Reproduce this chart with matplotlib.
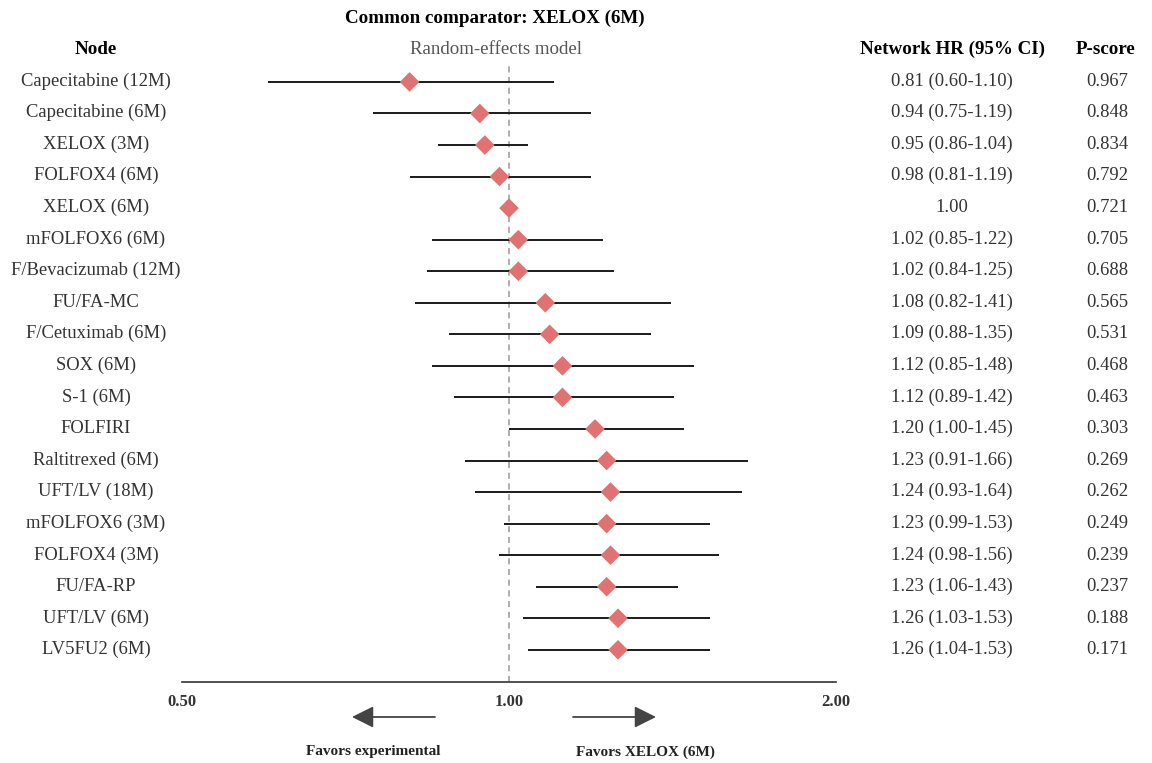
import numpy as np
from matplotlib import pyplot as plt
from matplotlib import ticker
from matplotlib.patches import FancyArrowPatch

plt.rcParams['font.family'] = ['Liberation Serif', 'DejaVu Serif']

nodes = ['Capecitabine (12M)', 'Capecitabine (6M)', 'XELOX (3M)', 'FOLFOX4 (6M)',
         'XELOX (6M)', 'mFOLFOX6 (6M)', 'F/Bevacizumab (12M)', 'FU/FA-MC',
         'F/Cetuximab (6M)', 'SOX (6M)', 'S-1 (6M)', 'FOLFIRI', 'Raltitrexed (6M)',
         'UFT/LV (18M)', 'mFOLFOX6 (3M)', 'FOLFOX4 (3M)', 'FU/FA-RP',
         'UFT/LV (6M)', 'LV5FU2 (6M)']
hr = [0.81, 0.94, 0.95, 0.98, 1.00, 1.02, 1.02, 1.08, 1.09, 1.12, 1.12, 1.20,
      1.23, 1.24, 1.23, 1.24, 1.23, 1.26, 1.26]
lower = [0.60, 0.75, 0.86, 0.81, None, 0.85, 0.84, 0.82, 0.88, 0.85, 0.89, 1.00,
         0.91, 0.93, 0.99, 0.98, 1.06, 1.03, 1.04]
upper = [1.10, 1.19, 1.04, 1.19, None, 1.22, 1.25, 1.41, 1.35, 1.48, 1.42, 1.45,
         1.66, 1.64, 1.53, 1.56, 1.43, 1.53, 1.53]
pscore = [0.967, 0.848, 0.834, 0.792, 0.721, 0.705, 0.688, 0.565, 0.531, 0.468,
          0.463, 0.303, 0.269, 0.262, 0.249, 0.239, 0.237, 0.188, 0.171]
xticks = [0.5, 1.0, 2.0]

W, H = 1152, 763
def fx(px):
    return px / W
def fy(py):
    return 1 - py / H

txt = '#333333'
red = '#E07272'

fig = plt.figure(figsize=(W / 100, H / 100), dpi=100)
ax = fig.add_axes([fx(182), fy(682), fx(836) - fx(182), (682 - 63) / H])

n = len(nodes)
y = np.arange(n)
for i in range(n):
    if lower[i] is not None:
        ax.plot([lower[i], upper[i]], [y[i], y[i]], color='#1a1a1a', lw=1.4,
                solid_capstyle='butt', zorder=2)
ax.scatter(hr, y, marker='D', s=100, color=red, edgecolors='none', zorder=3)
ax.axvline(1.0, color='#999999', lw=1.1, ls=(0, (4, 3)), zorder=1)

ax.set_xscale('log')
ax.set_xlim(0.5, 2.0)
ax.set_ylim(n - 1 + 1.02, -0.6)
ax.set_xticks(xticks)
ax.xaxis.set_major_formatter(ticker.FormatStrFormatter('%.2f'))
ax.xaxis.set_minor_locator(ticker.NullLocator())
ax.set_yticks([])
for s in ['top', 'left', 'right']:
    ax.spines[s].set_visible(False)
ax.spines['bottom'].set_color('#333333')
ax.spines['bottom'].set_linewidth(1.2)
ax.tick_params(axis='x', length=0, pad=8.5, labelsize=12, labelcolor=txt)
for lab in ax.get_xticklabels():
    lab.set_fontweight('bold')

# columns
for i in range(n):
    yy = fy(81 + i * 31.6)
    fig.text(fx(96), yy, nodes[i], ha='center', va='center', fontsize=13.4, color=txt)
    if lower[i] is None:
        s = f'{hr[i]:.2f}'
    else:
        s = f'{hr[i]:.2f} ({lower[i]:.2f}-{upper[i]:.2f})'
    fig.text(fx(952), yy, s, ha='center', va='center', fontsize=13.4, color=txt)
    fig.text(fx(1107), yy, f'{pscore[i]:.3f}', ha='center', va='center',
             fontsize=13.4, color=txt)

fig.text(fx(96), fy(49), 'Node', ha='center', va='center', fontsize=13.7,
         fontweight='bold', color='black')
fig.text(fx(952), fy(49), 'Network HR (95% CI)', ha='center', va='center',
         fontsize=13.7, fontweight='bold', color='black')
fig.text(fx(1106), fy(49), 'P-score', ha='center', va='center', fontsize=13.7,
         fontweight='bold', color='black')
fig.text(fx(495), fy(18), 'Common comparator: XELOX (6M)', ha='center',
         va='center', fontsize=13.7, fontweight='bold', color='black')
fig.text(fx(496), fy(49), 'Random-effects model', ha='center', va='center',
         fontsize=13.6, color='#555555')

# direction arrows
arrow_kw = dict(arrowstyle='-|>,head_length=1.1,head_width=0.55', color='#444444', lw=1.3)
fig.patches.append(FancyArrowPatch(
    (fx(435), fy(717)), (fx(352), fy(717)), transform=fig.transFigure,
    mutation_scale=12, shrinkA=0, shrinkB=0, **arrow_kw))
fig.patches.append(FancyArrowPatch(
    (fx(573), fy(717)), (fx(656), fy(717)), transform=fig.transFigure,
    mutation_scale=12, shrinkA=0, shrinkB=0, **arrow_kw))
fig.text(fx(373), fy(752), 'Favors experimental', ha='center', va='center',
         fontsize=11, fontweight='bold', color='#222222')
fig.text(fx(645), fy(752), 'Favors XELOX (6M)', ha='center', va='center',
         fontsize=11, fontweight='bold', color='#222222')

fig.savefig('out.png', dpi=100, facecolor='white')
